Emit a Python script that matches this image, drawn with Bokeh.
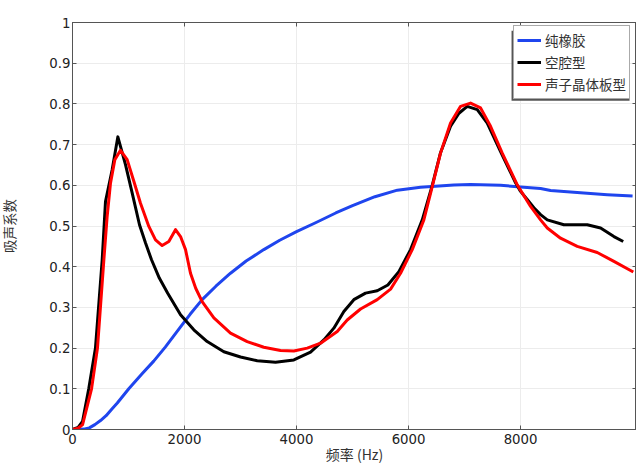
from bokeh.plotting import figure
from bokeh.embed import file_html
from bokeh.resources import INLINE
from bokeh.models import Range1d, LinearAxis, FixedTicker, Legend, LegendItem, BoxAnnotation, CustomJSTickFormatter

blue_x = [0,100,200,300,400,500,600,700,800,1005,1250,1450,1660,1929,2100,2315,2560,2821,3100,3416,3700,4000,4340,4700,5000,5400,5800,6214,6810,7107,7643,8000,8357,8536,9130,9548,10000]
blue_y = [0,0,0.001,0.004,0.012,0.022,0.034,0.05,0.065,0.1,0.138,0.168,0.203,0.252,0.283,0.319,0.352,0.384,0.414,0.442,0.465,0.486,0.508,0.532,0.55,0.572,0.588,0.595,0.601,0.602,0.6,0.596,0.592,0.587,0.581,0.577,0.574]
black_x = [0,100,180,290,410,530,589,708,810,946,1066,1196,1304,1411,1550,1700,1929,2166,2405,2702,3000,3298,3625,3952,4250,4488,4666,4845,5023,5232,5441,5631,5827,6036,6245,6423,6571,6750,6900,7048,7227,7405,7643,7911,8000,8119,8238,8357,8477,8773,9191,9429,9667,9833]
black_y = [0,0.005,0.02,0.1,0.2,0.417,0.56,0.638,0.719,0.651,0.581,0.503,0.458,0.417,0.372,0.335,0.282,0.245,0.216,0.191,0.178,0.169,0.165,0.171,0.19,0.22,0.249,0.29,0.319,0.335,0.341,0.355,0.388,0.442,0.515,0.6,0.68,0.745,0.777,0.794,0.786,0.753,0.683,0.606,0.585,0.565,0.545,0.528,0.515,0.503,0.503,0.495,0.474,0.462]
red_x = [0,100,180,340,446,560,619,679,756,857,976,1095,1214,1363,1482,1601,1720,1839,1929,2018,2107,2200,2315,2524,2821,3119,3416,3714,3952,4191,4429,4727,4905,5143,5441,5679,5857,6066,6273,6423,6571,6750,6929,7107,7286,7464,7673,7941,8179,8357,8477,8714,9012,9369,9667,10013]
red_y = [0,0.003,0.012,0.1,0.2,0.417,0.524,0.606,0.663,0.686,0.663,0.61,0.556,0.499,0.466,0.452,0.462,0.491,0.474,0.442,0.384,0.347,0.314,0.274,0.237,0.216,0.202,0.194,0.193,0.2,0.212,0.241,0.269,0.296,0.319,0.345,0.384,0.442,0.515,0.597,0.679,0.753,0.794,0.802,0.79,0.745,0.679,0.601,0.548,0.515,0.495,0.47,0.45,0.435,0.413,0.387]
x_ticks = [0,2000,4000,6000,8000]
y_ticks = [0,0.1,0.2,0.3,0.4,0.5,0.6,0.7,0.8,0.9,1]
labels = ["纯橡胶","空腔型","声子晶体板型"]
xlabel = "频率 (Hz)"
ylabel = "吸声系数"
colors = ["#1f45ee","#000000","#ff0000"]
FONT = "DejaVu Sans"
CJK = "Noto Sans CJK SC"

p = figure(width=637, height=461, output_backend="svg", toolbar_location=None,
           x_range=Range1d(0,10070), y_range=Range1d(0,1),
           frame_width=564, frame_height=407, margin=(0,0,0,-4),
           min_border_left=64, min_border_right=0, min_border_top=22, min_border_bottom=32,
           background_fill_color="white", border_fill_color="white", outline_line_color="#555555")
xax = p.below[0]
yax = p.left[0]
for ax, ticks in ((xax, x_ticks), (yax, y_ticks)):
    ax.ticker = FixedTicker(ticks=ticks)
    ax.major_label_text_font = FONT
    ax.major_label_text_font_size = "13.3px"
    ax.major_label_text_color = "#222222"
    ax.axis_line_color = "#555555"
    ax.major_tick_line_color = "#555555"
    ax.major_tick_in = 4
    ax.major_tick_out = 0
    ax.minor_tick_line_color = None
xax.major_label_standoff = 4
yax.major_label_standoff = 2
yax.formatter = CustomJSTickFormatter(code="return tick==0||tick==1 ? tick.toFixed(0) : tick.toFixed(1)")
for loc, t in (("above", x_ticks), ("right", y_ticks)):
    a = LinearAxis(ticker=FixedTicker(ticks=[], minor_ticks=t), axis_line_color="#555555",
                   major_tick_line_color=None, minor_tick_line_color="#555555", minor_tick_in=4, minor_tick_out=0,
                   major_label_standoff=0)
    p.add_layout(a, loc)
p.xgrid[0].ticker = FixedTicker(ticks=x_ticks)
p.ygrid[0].ticker = FixedTicker(ticks=y_ticks)
p.xgrid[0].grid_line_color = "#ececec"
p.ygrid[0].grid_line_color = "#ececec"

items = []
for xs, ys, c, lab in ((blue_x,blue_y,colors[0],labels[0]),(black_x,black_y,colors[1],labels[1]),(red_x,red_y,colors[2],labels[2])):
    r = p.line(xs, ys, line_color=c, line_width=3, line_join="round")
    items.append(LegendItem(label=lab, renderers=[r]))

p.add_layout(BoxAnnotation(left=7839, right=9946, bottom=0.808, top=0.980, fill_color="#555555", fill_alpha=1, line_color=None))
leg = Legend(items=items, location=(441, 330), margin=0, padding=3, spacing=0, glyph_width=24, glyph_height=22,
             label_height=22, label_text_font=CJK, label_text_font_size="13.5px", label_text_color="#333333",
             label_standoff=4, border_line_color="#555555", background_fill_alpha=1)
p.add_layout(leg, "center")

xax.axis_label = xlabel
xax.axis_label_text_font = CJK
xax.axis_label_text_font_size = "14px"
xax.axis_label_text_font_style = "normal"
xax.axis_label_text_color = "#333333"
xax.axis_label_standoff = -3
yax.axis_label = ylabel
yax.axis_label_text_font = CJK
yax.axis_label_text_font_size = "13.5px"
yax.axis_label_text_font_style = "normal"
yax.axis_label_text_color = "#333333"
yax.axis_label_standoff = 27

open("out.html", "w").write(file_html(p, INLINE))
